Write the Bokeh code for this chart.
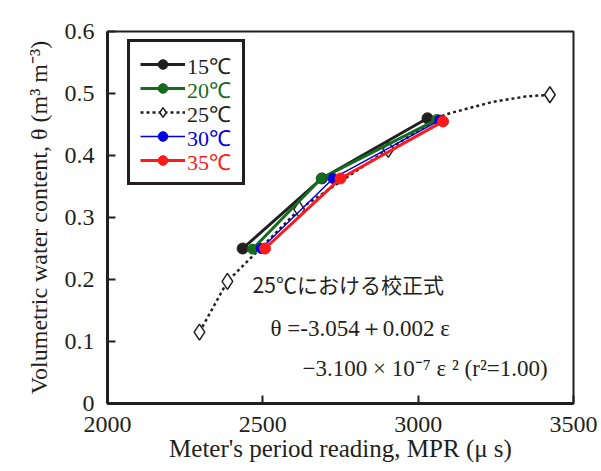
from bokeh.plotting import figure
from bokeh.models import Legend, LegendItem, Label, Range1d, FixedTicker
from bokeh.embed import file_html
from bokeh.resources import INLINE

# ---- data ----
mpr_15 = [2435, 2690, 3030]
theta_15 = [0.250, 0.363, 0.460]
mpr_20 = [2467, 2688, 3060]
theta_20 = [0.249, 0.363, 0.458]
mpr_30 = [2495, 2726, 3070]
theta_30 = [0.250, 0.363, 0.457]
mpr_35 = [2507, 2750, 3080]
theta_35 = [0.250, 0.363, 0.455]
mpr_25 = [2296, 2386, 2617, 2904, 3424]
theta_25 = [0.115, 0.197, 0.313, 0.410, 0.498]
fit_mpr_25 = [2296, 2386, 2617, 2904, 3086, 3236, 3344, 3424]
fit_theta_25 = [0.115, 0.197, 0.313, 0.410, 0.466, 0.486, 0.495, 0.498]

x_ticks = [2000, 2500, 3000, 3500]
y_ticks = [0, 0.1, 0.2, 0.3, 0.4, 0.5, 0.6]
labels = ["15℃", "20℃", "25℃", "30℃", "35℃"]
colors = ["#231f20", "#146c1e", "#231f20", "#0000e0", "#ff1a1a"]

SERIF = "Liberation Serif"
INK = "#231f20"

p = figure(width=601, height=471, output_backend="svg", toolbar_location=None,
           x_range=Range1d(2000, 3500), y_range=Range1d(0, 0.6),
           min_border_left=107, min_border_right=28, min_border_top=31, min_border_bottom=68)
p.grid.visible = False
p.outline_line_color = INK
p.outline_line_width = 2

for ax in (p.xaxis[0], p.yaxis[0]):
    ax.axis_line_width = 3
    ax.axis_line_color = INK
    ax.major_tick_in = 8
    ax.major_tick_out = 0
    ax.major_tick_line_width = 2
    ax.major_tick_line_color = INK
    ax.minor_tick_line_color = None
    ax.major_label_text_font = SERIF
    ax.major_label_text_font_size = "24px"
    ax.major_label_text_color = INK
    ax.axis_label_text_font = SERIF
    ax.axis_label_text_font_style = "normal"
    ax.axis_label_text_color = INK

p.xaxis.ticker = FixedTicker(ticks=x_ticks)
p.yaxis.ticker = FixedTicker(ticks=y_ticks)
p.yaxis.major_label_overrides = {0: "0"}
p.xaxis.major_label_standoff = 13
p.yaxis.major_label_standoff = 13
p.xaxis.axis_label = "Meter's period reading, MPR (μ s)"
p.yaxis.axis_label = "Volumetric water content, θ (m³ m⁻³)"
p.xaxis.axis_label_text_font_size = "25px"
p.yaxis.axis_label_text_font_size = "24px"
p.xaxis.axis_label_standoff = 0
p.yaxis.axis_label_standoff = 10

# 25 C fit curve + points
r25l = p.line(fit_mpr_25, fit_theta_25, line_color=colors[2], line_width=2.5, line_dash="3 3")
r25m = p.scatter(mpr_25, theta_25, marker="diamond", size=16, fill_color="white",
                 line_color=colors[2], line_width=1.5)

series = [(mpr_15, theta_15, colors[0], 3, 11),
          (mpr_20, theta_20, colors[1], 3, 10),
          (mpr_30, theta_30, colors[3], 1.5, 10),
          (mpr_35, theta_35, colors[4], 3, 11)]
rends = {}
for (xs, ys, c, lw, sz), lab in zip(series, ["15℃", "20℃", "30℃", "35℃"]):
    rl = p.line(xs, ys, line_color=c, line_width=lw)
    rm = p.scatter(xs, ys, marker="circle", size=sz, fill_color=c, line_color=c)
    rends[lab] = [rl, rm]
rends["25℃"] = [r25l, r25m]

# legend box with sample glyphs (rows of fixed 24 px)
LX, LY, PAD, ROW = 20, 218, 10, 24
main = Legend(items=[LegendItem(label="\u2003\u2003\u2003", renderers=rends[l]) for l in labels],
              location=(LX, LY), padding=PAD, spacing=0, margin=0,
              glyph_width=45, glyph_height=ROW, label_height=ROW, label_standoff=5,
              label_text_font=SERIF, label_text_font_size="14px",
              border_line_color=INK, border_line_width=3, border_line_alpha=1,
              background_fill_color="white", background_fill_alpha=1)
p.add_layout(main, "center")

# coloured legend texts
dummy = p.line(x=[], y=[], line_alpha=0)
n = len(labels)
for i, (l, c) in enumerate(zip(labels, colors)):
    centre = LY + 2 * PAD + n * ROW - PAD - ROW / 2 - ROW * i
    lg = Legend(items=[LegendItem(label=l, renderers=[dummy])],
                location=(LX + PAD, centre - 12.5), padding=0, spacing=0, margin=0,
                glyph_width=45, glyph_height=ROW, label_height=ROW, label_standoff=5,
                label_text_font=SERIF, label_text_font_size="22px", label_text_color=c,
                border_line_alpha=0, background_fill_alpha=0)
    p.add_layout(lg, "center")

# annotations
p.add_layout(Label(x=2467, y=0.193, text="25℃における校正式", text_font="Noto Sans CJK JP",
                   text_font_size="21px", text_baseline="middle", text_color=INK))
p.add_layout(Label(x=2525, y=0.1205, text="θ =-3.054＋0.002 ε", text_font=SERIF,
                   text_font_size="23px", text_baseline="middle", text_color=INK))
p.add_layout(Label(x=2628, y=0.056, text="−3.100 × 10⁻⁷ ε ² (r²=1.00)", text_font=SERIF,
                   text_font_size="23px", text_baseline="middle", text_color=INK))

open("out.html", "w").write(file_html(p, INLINE))
